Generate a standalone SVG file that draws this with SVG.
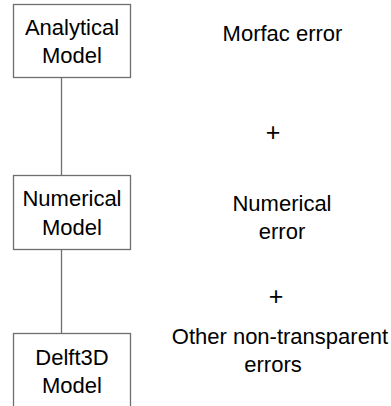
<svg xmlns="http://www.w3.org/2000/svg" width="391" height="406" viewBox="0 0 391 406">
<style>
.box{fill:#fff;stroke:#6e6e6e;stroke-width:1.3}
.ln{stroke:#6e6e6e;stroke-width:1.3;fill:none}
text{font-family:"Liberation Sans",Arial,sans-serif;font-size:22px;fill:#000;text-anchor:middle}
.plus{font-size:25px}
</style>
<rect width="391" height="406" fill="#fff"/>
<g id="connectors">
<line class="ln" x1="61.5" y1="77.5" x2="61.5" y2="175.5"/>
<line class="ln" x1="61.5" y1="249.5" x2="61.5" y2="333.5"/>
</g>
<g id="analytical">
<rect class="box" x="13.5" y="4.5" width="117" height="73"/>
<text x="72" y="34.5">Analytical</text>
<text x="72" y="63">Model</text>
</g>
<g id="numerical">
<rect class="box" x="13.5" y="175.5" width="117" height="74"/>
<text x="72" y="206">Numerical</text>
<text x="72" y="235">Model</text>
</g>
<g id="delft3d">
<rect class="box" x="13.5" y="333.5" width="117" height="90"/>
<text x="72" y="364.5">Delft3D</text>
<text x="72" y="393">Model</text>
</g>
<g id="errors">
<text x="282.5" y="41">Morfac error</text>
<text class="plus" x="273" y="140.5">+</text>
<text x="282" y="211">Numerical</text>
<text x="282" y="239">error</text>
<text class="plus" x="276" y="304.5">+</text>
<text x="280" y="344">Other non-transparent</text>
<text x="273" y="372">errors</text>
</g>
</svg>
